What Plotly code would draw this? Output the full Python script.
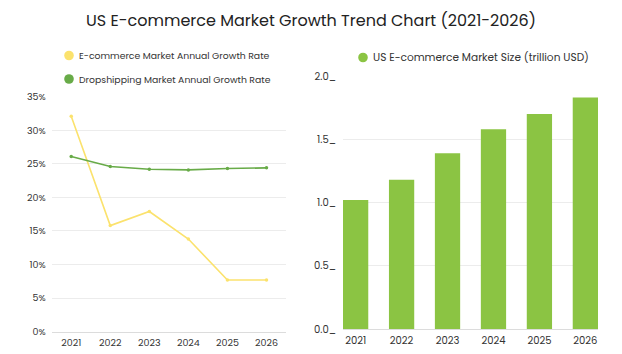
import plotly.graph_objects as go

years = ["2021", "2022", "2023", "2024", "2025", "2026"]
ecom_growth = [32.1, 15.8, 17.9, 13.8, 7.7, 7.7]
drop_growth = [26.1, 24.6, 24.2, 24.1, 24.3, 24.4]
market_size = [1.02, 1.18, 1.39, 1.58, 1.70, 1.83]

left_legend = ["E-commerce Market Annual Growth Rate", "Dropshipping Market Annual Growth Rate"]
right_legend = "US E-commerce Market Size (trillion USD)"
title = "US E-commerce Market Growth Trend Chart (2021-2026)"

YELLOW = "#fbe26d"
GREEN_LINE = "#68ab48"
GREEN_BAR = "#8bc443"
FONT = "Poppins, Open Sans, sans-serif"
W, H = 622, 354

fig = go.Figure()
fig.add_trace(go.Scatter(x=years, y=ecom_growth, mode="lines+markers",
                         line=dict(color=YELLOW, width=1.6), marker=dict(size=3.5, color=YELLOW),
                         xaxis="x", yaxis="y", showlegend=False))
fig.add_trace(go.Scatter(x=years, y=drop_growth, mode="lines+markers",
                         line=dict(color=GREEN_LINE, width=1.6), marker=dict(size=3.5, color=GREEN_LINE),
                         xaxis="x", yaxis="y", showlegend=False))
fig.add_trace(go.Bar(x=years, y=market_size, marker=dict(color=GREEN_BAR, line=dict(width=0)),
                     xaxis="x2", yaxis="y2", showlegend=False))

def px_x(v):
    return v / W

def px_y(v):
    return 1 - v / H

tickfont_l = dict(family=FONT, size=9.5, color="#333")
tickfont_r = dict(family=FONT, size=10, color="#333")

fig.update_layout(
    width=W, height=H,
    margin=dict(l=0, r=0, t=0, b=0, autoexpand=False),
    paper_bgcolor="white", plot_bgcolor="white",
    font=dict(family=FONT),
    bargap=0.45,
    xaxis=dict(domain=[px_x(51.7), px_x(286)], anchor="y", type="category", range=[-0.5, 5.5],
               showgrid=False, showline=True, linecolor="#dcdcdc", linewidth=1,
               ticks="", tickfont=tickfont_l, automargin=False, ticklabelstandoff=2),
    yaxis=dict(domain=[px_y(331.7), px_y(96.7)], anchor="x", range=[0, 35], dtick=5,
               ticksuffix="%", showgrid=True, gridcolor="#ececec", zeroline=False,
               showline=False, ticks="", tickfont=tickfont_l, ticklabelstandoff=5, automargin=False),
    xaxis2=dict(domain=[px_x(343), px_x(598)], anchor="y2", type="category", range=[-0.275, 5.275],
                showgrid=False, showline=True, linecolor="#dcdcdc", linewidth=1,
                ticks="", tickfont=tickfont_r, automargin=False, ticklabelstandoff=2),
    yaxis2=dict(domain=[px_y(329.3), px_y(76)], anchor="x2", range=[0, 2], dtick=0.5,
                tickformat=".1f", ticksuffix="_", showgrid=True, gridcolor="#ececec",
                zeroline=False, showline=False, ticks="", tickfont=tickfont_r, ticklabelstandoff=6,
                automargin=False),
)

annotations = [
    dict(text=title, x=px_x(311), y=px_y(20.5), xref="paper", yref="paper", showarrow=False,
         xanchor="center", yanchor="middle", font=dict(family=FONT, size=16, color="#222")),
]
shapes = []
legend_items = [
    (left_legend[0], YELLOW, 69, 55.5, 9.3),
    (left_legend[1], GREEN_LINE, 69, 79, 9.3),
    (right_legend, GREEN_BAR, 363, 57.5, 10.6),
]
r = 4.8
for text, color, cx, cy, fs in legend_items:
    shapes.append(dict(type="circle", xref="paper", yref="paper",
                       x0=px_x(cx - r), x1=px_x(cx + r), y0=px_y(cy + r), y1=px_y(cy - r),
                       fillcolor=color, line=dict(width=0)))
    annotations.append(dict(text=text, x=px_x(cx + 8), y=px_y(cy), xref="paper", yref="paper",
                            showarrow=False, xanchor="left", yanchor="middle",
                            font=dict(family=FONT, size=fs, color="#333")))
fig.update_layout(annotations=annotations, shapes=shapes)

fig.write_html("out.html")
